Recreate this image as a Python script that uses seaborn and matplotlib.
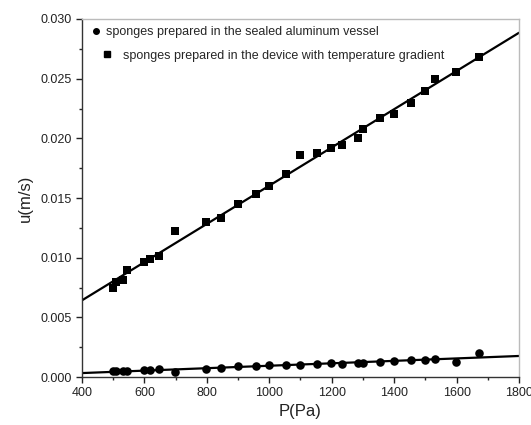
import numpy as np
import pandas as pd
import seaborn as sns
import matplotlib
matplotlib.use("Agg")
import matplotlib.pyplot as plt
from matplotlib.lines import Line2D
from matplotlib.ticker import MultipleLocator

# Data
p_sealed = [498, 509, 532, 543, 598, 617, 648, 699, 798, 844, 900, 956, 999, 1054,
            1099, 1153, 1198, 1232, 1285, 1299, 1355, 1400, 1454, 1498, 1530, 1597, 1673]
u_sealed = [0.00050, 0.00050, 0.00050, 0.00050, 0.00055, 0.00055, 0.00064, 0.00042,
            0.00064, 0.00073, 0.00095, 0.00095, 0.00100, 0.00102, 0.00103, 0.00110,
            0.00118, 0.00110, 0.00117, 0.00120, 0.00128, 0.00134, 0.00140, 0.00140,
            0.00155, 0.00130, 0.00200]

p_grad = [498, 509, 530, 543, 598, 617, 648, 699, 798, 844, 900, 956, 999, 1054,
          1099, 1153, 1198, 1232, 1285, 1299, 1355, 1400, 1454, 1498, 1530, 1597, 1673]
u_grad = [0.0075, 0.0080, 0.0081, 0.0090, 0.0096, 0.0099, 0.0101, 0.0122, 0.0130,
          0.0133, 0.0145, 0.0153, 0.0160, 0.0170, 0.0186, 0.0188, 0.0192, 0.0194,
          0.0200, 0.0208, 0.0217, 0.0220, 0.0230, 0.0240, 0.0250, 0.0256, 0.0268]

label_sealed = "sponges prepared in the sealed aluminum vessel"
label_grad = "sponges prepared in the device with temperature gradient"
x_label = "P(Pa)"
y_label = "u(m/s)"

sns.set_style("ticks")
plt.rcParams['font.family'] = ['Liberation Sans', 'DejaVu Sans']

fig = plt.figure(figsize=(5.31, 4.25), dpi=100)
ax = fig.add_axes([0.1544, 0.1129, 0.823, 0.8424])
ax.set_xlim(400, 1800)
ax.set_ylim(0, 0.030)

df_s = pd.DataFrame({"P": p_sealed, "u": u_sealed})
df_g = pd.DataFrame({"P": p_grad, "u": u_grad})

sns.scatterplot(data=df_s, x="P", y="u", marker="o", color="black", s=38,
                edgecolor="black", linewidth=0, ax=ax, zorder=3)
sns.scatterplot(data=df_g, x="P", y="u", marker="s", color="black", s=36,
                edgecolor="black", linewidth=0, ax=ax, zorder=3)
sns.regplot(data=df_s, x="P", y="u", scatter=False, ci=None, truncate=False,
            color="black", line_kws={"linewidth": 1.6}, ax=ax)
sns.regplot(data=df_g, x="P", y="u", scatter=False, ci=None, truncate=False,
            color="black", line_kws={"linewidth": 1.6}, ax=ax)
ax.set_xlim(400, 1800)
ax.set_ylim(0, 0.030)

ax.xaxis.set_major_locator(MultipleLocator(200))
ax.xaxis.set_minor_locator(MultipleLocator(100))
ax.yaxis.set_major_locator(MultipleLocator(0.005))
ax.yaxis.set_minor_locator(MultipleLocator(0.0025))
ax.yaxis.set_major_formatter(matplotlib.ticker.FormatStrFormatter('%.3f'))
ax.tick_params(which="major", direction="out", length=4, width=1, labelsize=9,
               colors="#222222")
ax.tick_params(which="minor", direction="out", length=2.5, width=1)
ax.set_xlabel(x_label, fontsize=12, color="#222222", labelpad=3)
ax.set_ylabel(y_label, fontsize=12, color="#222222", labelpad=5)

for side in ["left", "bottom"]:
    ax.spines[side].set_color("#333333")
    ax.spines[side].set_linewidth(1.0)
for side in ["top", "right"]:
    ax.spines[side].set_visible(True)
    ax.spines[side].set_color("#bbbbbb")
    ax.spines[side].set_linewidth(1.0)

h1 = Line2D([], [], marker="o", color="black", linestyle="none", markersize=4)
h2 = Line2D([], [], marker="s", color="black", linestyle="none", markersize=4)
leg1 = ax.legend([h1], [label_sealed], loc="upper left", frameon=False,
                 fontsize=9, handletextpad=0.3, borderaxespad=0.2,
                 bbox_to_anchor=(0.0, 1.0), handlelength=1.0)
ax.add_artist(leg1)
leg2 = ax.legend([h2], [label_grad], loc="upper left", frameon=False,
                 fontsize=9, handletextpad=0.8, borderaxespad=0.2,
                 bbox_to_anchor=(0.025, 0.935), handlelength=1.0)

fig.savefig("out.png", dpi=100)
